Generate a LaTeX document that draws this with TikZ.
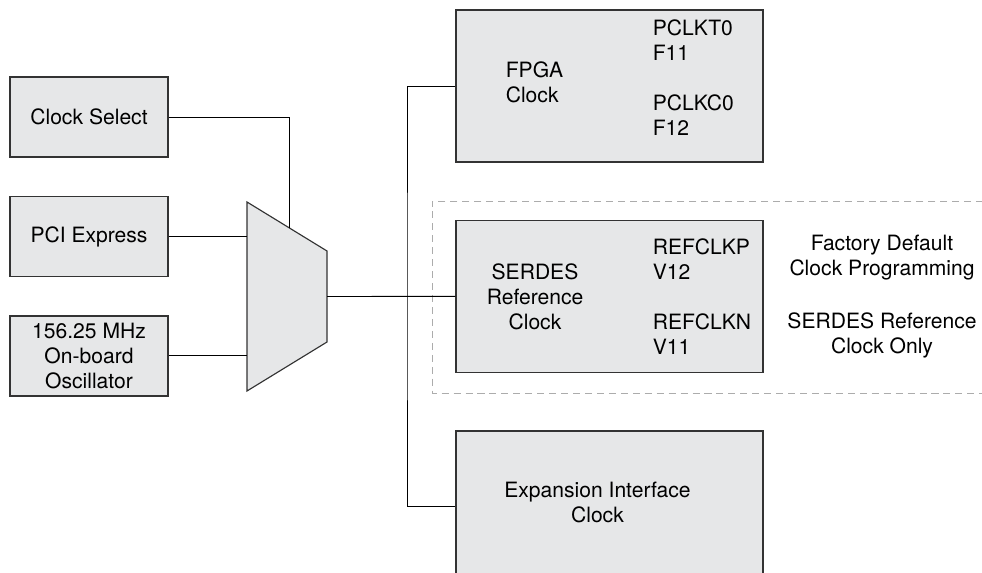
\documentclass[tikz,border=0pt]{standalone}
\usepackage{fontspec}
\setmainfont{TeX Gyre Heros}
\usetikzlibrary{positioning}
\definecolor{boxgray}{HTML}{E6E7E8}
\definecolor{edgegray}{HTML}{333333}
\tikzstyle{srcbox} = [
  rectangle,
  minimum width=3.16cm,
  minimum height=1.6cm,
  align=center,
  draw=edgegray,
  line width=0.65pt,
  fill=boxgray,
  font=\fontsize{12}{14.2}\selectfont
]
\tikzstyle{clkbox} = [
  rectangle,
  minimum width=6.14cm,
  minimum height=3.04cm,
  draw=edgegray,
  line width=0.65pt,
  fill=boxgray
]
\tikzstyle{boxtext} = [inner sep=0pt, font=\fontsize{12}{14.2}\selectfont]
\tikzstyle{wire} = [draw=black, line width=0.55pt]

\begin{document}
\begin{tikzpicture}[x=0.02cm, y=-0.02cm, node distance=2.39cm]
    \useasboundingbox (0,0) rectangle (982,573);

    % factory default frame
    \draw [gray!65, line width=0.5pt, dash pattern=on 4pt off 2.8pt] (995,201) -- (432,201) -- (432,393) -- (995,393);

    % clock sources
    \node (clock-select) [srcbox] at (89,117) {Clock Select};
    \node (pci-express) [srcbox, below of=clock-select] {PCI Express};
    \node (oscillator) [srcbox, below of=pci-express] {156.25 MHz\\On-board\\Oscillator};

    % mux
    \coordinate (mux-tl) at (247,202);
    \coordinate (mux-tr) at (327,251);
    \coordinate (mux-br) at (327,342);
    \coordinate (mux-bl) at (247,391);
    \coordinate (mux-sel) at (289,227.7);
    \coordinate (mux-out) at (327,296.5);
    \coordinate (bus) at (407,296.5);
    \draw [fill=boxgray, draw=edgegray, line width=0.65pt] (mux-tl) -- (mux-tr) -- (mux-br) -- (mux-bl) -- cycle;

    % clock targets
    \node (fpga-clock) [clkbox] at (609.5,86) {};
    \node (serdes-clock) [clkbox, below of=fpga-clock, yshift=-1.82cm] {};
    \node (expansion-clock) [clkbox, below of=serdes-clock, yshift=-1.82cm] {};

    \node (fpga-name) [boxtext, anchor=west, align=left] at ([xshift=1cm, yshift=0.08cm]fpga-clock.west) {FPGA\\Clock};
    \node (fpga-pins) [boxtext, anchor=west, align=left] at ([xshift=3.94cm, yshift=0.17cm]fpga-clock.west) {PCLKT0\\F11\\[14.2pt]PCLKC0\\F12};
    \node (serdes-name) [boxtext, align=center] at ([xshift=-1.49cm]serdes-clock.center) {SERDES\\Reference\\Clock};
    \node (serdes-pins) [boxtext, anchor=west, align=left] at ([xshift=3.94cm]serdes-clock.west) {REFCLKP\\V12\\[14.2pt]REFCLKN\\V11};
    \node (expansion-name) [boxtext, align=center] at ([xshift=-0.24cm, yshift=0.08cm]expansion-clock.center) {Expansion Interface\\Clock};

    % notes
    \node (factory-note) [boxtext, align=center] at (882,258) {Factory Default\\Clock Programming};
    \node (serdes-note) [boxtext, align=center, below of=factory-note, yshift=0.85cm] {SERDES Reference\\Clock Only};

    \draw [wire] (clock-select.east) -| (mux-sel);
    \draw [wire] (pci-express.east) -- (pci-express.east -| mux-tl);
    \draw [wire] (oscillator.east) -- (oscillator.east -| mux-tl);
    \draw [wire] (mux-out) -- (serdes-clock.west);
    \draw [wire] (fpga-clock.west) -| (bus) |- (expansion-clock.west);
\end{tikzpicture}
\end{document}
